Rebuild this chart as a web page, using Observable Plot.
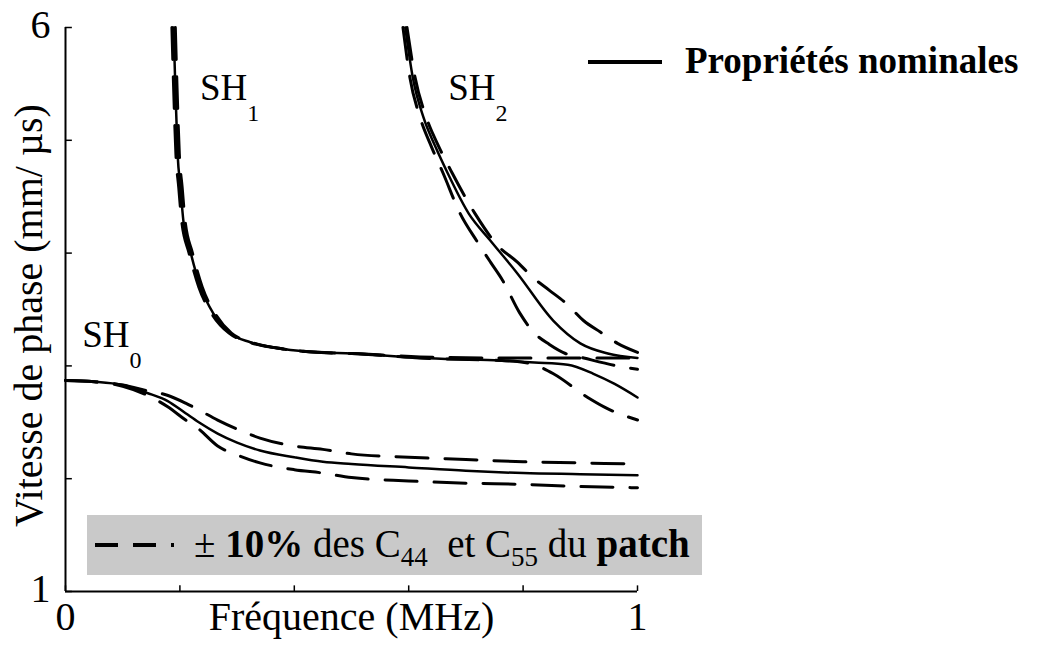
<!DOCTYPE html>
<html><head><meta charset="utf-8">
<script src="https://cdn.jsdelivr.net/npm/d3@7"></script>
<script src="https://cdn.jsdelivr.net/npm/@observablehq/plot@0.6"></script>
<style>body{margin:0;background:#fff} #chart{width:1041px;height:645px}</style>
</head><body><div id="chart"></div>
<script>
// ---- data (frequency in MHz, phase velocity in mm/µs) ----
const sh0Freq  = [0, 0.05, 0.1, 0.143, 0.178, 0.21, 0.233, 0.266, 0.3, 0.34, 0.4, 0.45, 0.5, 0.6, 0.7, 0.8, 0.9, 1.0];
const sh0Nom   = [2.87, 2.86, 2.83, 2.76, 2.69, 2.58, 2.50, 2.40, 2.32, 2.25, 2.19, 2.15, 2.13, 2.10, 2.07, 2.05, 2.04, 2.03];
const sh0Plus  = [2.87, 2.86, 2.83, 2.78, 2.74, 2.67, 2.61, 2.52, 2.44, 2.36, 2.29, 2.26, 2.22, 2.19, 2.17, 2.15, 2.14, 2.13];
const sh0Minus = [2.87, 2.86, 2.82, 2.74, 2.64, 2.52, 2.44, 2.29, 2.21, 2.14, 2.08, 2.05, 2.01, 1.98, 1.96, 1.95, 1.93, 1.92];

const sh1NomFreq   = [0.189, 0.192, 0.196, 0.201, 0.206, 0.219, 0.236, 0.259, 0.288, 0.323, 0.381, 0.441, 0.5, 0.62, 0.75, 0.82, 0.878, 0.923, 0.96, 1.0];
const sh1Nom       = [6.0, 5.47, 4.88, 4.58, 4.29, 4.0, 3.70, 3.46, 3.29, 3.21, 3.15, 3.12, 3.11, 3.07, 3.05, 3.03, 3.01, 2.93, 2.84, 2.72];
const sh1PlusFreq  = [0.192, 0.195, 0.199, 0.204, 0.209, 0.222, 0.239, 0.262, 0.29, 0.325, 0.381, 0.441, 0.5, 0.62, 0.75, 0.82, 0.878, 0.923, 0.96, 1.0];
const sh1Plus      = [6.0, 5.47, 4.88, 4.58, 4.29, 4.0, 3.70, 3.46, 3.29, 3.21, 3.15, 3.12, 3.11, 3.08, 3.07, 3.07, 3.07, 3.07, 3.07, 3.07];
const sh1MinusFreq = [0.186, 0.189, 0.193, 0.198, 0.203, 0.216, 0.233, 0.256, 0.286, 0.321, 0.381, 0.441, 0.5, 0.62, 0.75, 0.79, 0.82, 0.853, 0.913, 0.944, 1.0];
const sh1Minus     = [6.0, 5.47, 4.88, 4.58, 4.29, 4.0, 3.70, 3.46, 3.29, 3.21, 3.15, 3.12, 3.11, 3.07, 3.05, 3.04, 3.01, 2.93, 2.72, 2.63, 2.52];

const sh2NomFreq   = [0.594, 0.607, 0.626, 0.647, 0.668, 0.705, 0.743, 0.79, 0.853, 0.90, 0.948, 1.0];
const sh2Nom       = [6.0, 5.56, 5.20, 4.94, 4.71, 4.35, 4.11, 3.82, 3.40, 3.20, 3.11, 3.07];
const sh2PlusFreq  = [0.597, 0.611, 0.631, 0.653, 0.676, 0.716, 0.755, 0.79, 0.818, 0.846, 0.874, 0.906, 0.935, 0.965, 1.0];
const sh2Plus      = [6.0, 5.56, 5.20, 4.94, 4.71, 4.35, 4.07, 3.92, 3.78, 3.67, 3.56, 3.40, 3.30, 3.20, 3.12];
const sh2MinusFreq = [0.590, 0.602, 0.62, 0.64, 0.66, 0.69, 0.72, 0.743, 0.764, 0.794, 0.818, 0.846, 0.874, 0.906, 0.965, 1.0];
const sh2Minus     = [6.0, 5.56, 5.20, 4.94, 4.71, 4.35, 4.10, 3.92, 3.76, 3.47, 3.30, 3.19, 3.11, 3.07, 3.00, 2.97];

const xTicks = [0, 0.2, 0.4, 0.6, 0.8, 1];
const yTicks = [1, 2, 3, 4, 5, 6];
const xTickLabels = [0, 1];
const yTickLabels = [1, 6];
const xTitle = "Fréquence (MHz)";
const yTitle = "Vitesse de phase (mm/ µs)";
const modeLabels = [
  {name: "SH", sub: "0", f: 0.03, v: 3.16},
  {name: "SH", sub: "1", f: 0.236, v: 5.35},
  {name: "SH", sub: "2", f: 0.67, v: 5.35}
];
const legendNominal = "Propriétés nominales";

// ---- table ----
const rows = [];
function add(key, variant, xs, ys) { xs.forEach((x, i) => rows.push({key: key + variant, variant, f: x, v: ys[i]})); }
add("SH0", "nom", sh0Freq, sh0Nom);
add("SH0", "plus", sh0Freq, sh0Plus);
add("SH0", "minus", sh0Freq, sh0Minus);
add("SH1", "nom", sh1NomFreq, sh1Nom);
add("SH1", "plus", sh1PlusFreq, sh1Plus);
add("SH1", "minus", sh1MinusFreq, sh1Minus);
add("SH2", "nom", sh2NomFreq, sh2Nom);
add("SH2", "plus", sh2PlusFreq, sh2Plus);
add("SH2", "minus", sh2MinusFreq, sh2Minus);

const font = "'Liberation Serif','Times New Roman',Times,serif";

const plot = Plot.plot({
  width: 1041, height: 645,
  marginLeft: 65, marginRight: 404, marginTop: 27, marginBottom: 54,
  style: {fontFamily: font, background: "white", color: "black", overflow: "visible"},
  x: {domain: [0, 1], axis: null},
  y: {domain: [1, 6], axis: null},
  marks: [
    Plot.line(rows.filter(d => d.variant !== "nom"), {x: "f", y: "v", z: "key", stroke: "black", strokeWidth: 3, strokeDasharray: "32,17", curve: "monotone-x"}),
    Plot.line(rows.filter(d => d.variant === "nom"), {x: "f", y: "v", z: "key", stroke: "black", strokeWidth: 2.5, curve: "monotone-x"}),
    Plot.ruleX([0], {y1: 1, y2: 6, stroke: "black", strokeWidth: 2}),
    Plot.ruleY([1], {x1: 0, x2: 1, stroke: "black", strokeWidth: 2}),
    Plot.ruleY(yTicks, {x1: 0, x2: 0.012, stroke: "black", strokeWidth: 1.5}),
    Plot.ruleX(xTicks, {y1: 1, y2: 1.05, stroke: "black", strokeWidth: 1.5}),
    Plot.text(xTickLabels, {x: d => d, frameAnchor: "bottom", dy: 38, fontSize: 40, textAnchor: "middle", text: d => String(d)}),
    Plot.text(yTickLabels, {y: d => d, frameAnchor: "left", dx: -15, dy: -2, textAnchor: "end", fontSize: 40, text: d => String(d)}),
    Plot.text([xTitle], {frameAnchor: "bottom", dy: 38, fontSize: 40, textAnchor: "middle", text: d => d}),
    Plot.text([yTitle], {frameAnchor: "left", dx: -36, dy: 6, rotate: -90, fontSize: 40, textAnchor: "middle", text: d => d})
  ]
});
document.getElementById("chart").appendChild(plot);

// ---- annotations & legends ----
const svg = d3.select(plot);
const sx = plot.scale("x"), sy = plot.scale("y");
modeLabels.forEach(m => {
  const t = svg.append("text").attr("x", sx.apply(m.f)).attr("y", sy.apply(m.v))
    .attr("text-anchor", "start").attr("font-family", font).attr("font-size", 37).attr("fill", "black");
  t.append("tspan").text(m.name);
  t.append("tspan").attr("font-size", 24).attr("dy", 21).text(m.sub);
});

// top-right legend
svg.append("line").attr("x1", 588).attr("x2", 662).attr("y1", 62).attr("y2", 62)
  .attr("stroke", "black").attr("stroke-width", 4);
svg.append("text").attr("x", 685).attr("y", 73).attr("text-anchor", "start").attr("font-family", font)
  .attr("font-size", 37).attr("font-weight", "bold").attr("fill", "black").text(legendNominal);

// bottom legend box
svg.append("rect").attr("x", 87).attr("y", 515).attr("width", 615).attr("height", 60).attr("fill", "#c9c9c9");
svg.append("line").attr("x1", 95).attr("x2", 174).attr("y1", 545).attr("y2", 545)
  .attr("stroke", "black").attr("stroke-width", 4).attr("stroke-dasharray", "23,15");
const lt = svg.append("text").attr("x", 194).attr("y", 557).attr("text-anchor", "start").attr("font-family", font)
  .attr("font-size", 39).attr("fill", "black");
lt.append("tspan").text("± ");
lt.append("tspan").attr("font-weight", "bold").text("10%");
lt.append("tspan").text(" des C");
lt.append("tspan").attr("font-size", 27).attr("dy", 9).text("44");
lt.append("tspan").attr("dy", -9).text("  et C");
lt.append("tspan").attr("font-size", 27).attr("dy", 9).text("55");
lt.append("tspan").attr("dy", -9).text(" du ");
lt.append("tspan").attr("font-weight", "bold").text("patch");
</script>
</body></html>
